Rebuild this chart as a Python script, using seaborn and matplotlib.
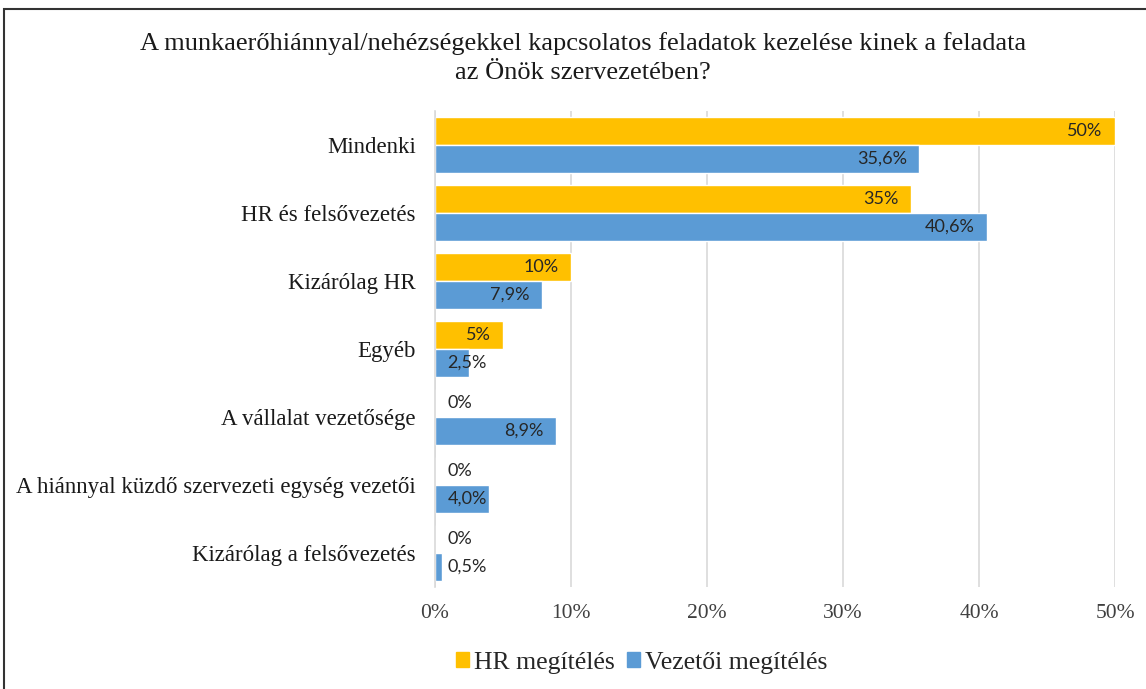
import matplotlib
matplotlib.use("Agg")
from matplotlib import pyplot as plt
from matplotlib.patches import Rectangle
import pandas as pd
import seaborn as sns

# data
categories = ['Mindenki', 'HR és felsővezetés', 'Kizárólag HR', 'Egyéb',
              'A vállalat vezetősége', 'A hiánnyal küzdő szervezeti egység vezetői',
              'Kizárólag a felsővezetés']
hr_values = [50, 35, 10, 5, 0, 0, 0]
vez_values = [35.6, 40.6, 7.9, 2.5, 8.9, 4.0, 0.5]
hr_labels = ['50%', '35%', '10%', '5%', '0%', '0%', '0%']
vez_labels = ['35,6%', '40,6%', '7,9%', '2,5%', '8,9%', '4,0%', '0,5%']
series = ['HR megítélés', 'Vezetői megítélés']
x_ticks = [0, 10, 20, 30, 40, 50]

colors = {'HR megítélés': '#FFC000', 'Vezetői megítélés': '#5B9BD5'}

df = pd.DataFrame({
    'Kategória': categories * 2,
    'Érték': hr_values + vez_values,
    'Sorozat': [series[0]] * len(categories) + [series[1]] * len(categories),
})

sns.set_style('white')
plt.rcParams['font.family'] = ['Liberation Serif', 'DejaVu Serif']

fig = plt.figure(figsize=(11.46, 6.89), dpi=100)
ax = fig.add_axes([0.3796, 0.148, 0.5934, 0.691])

sns.barplot(data=df, y='Kategória', x='Érték', hue='Sorozat', order=categories,
            hue_order=series, palette=colors, orient='h', width=0.82,
            saturation=1, ax=ax, legend=False)

ax.set_xlim(0, 50)
ax.set_xticks(x_ticks)
ax.set_xticklabels([f'{t}%' for t in x_ticks], fontsize=15.5, color='#404040')
ax.tick_params(axis='y', labelsize=16.5, length=0, pad=14, labelcolor='#1a1a1a')
ax.tick_params(axis='x', length=0, pad=12)
ax.set_xlabel('')
ax.set_ylabel('')
ax.xaxis.grid(True, color='#D9D9D9', linewidth=1.2)
ax.set_axisbelow(True)
for s in ['top', 'right', 'bottom']:
    ax.spines[s].set_visible(False)
ax.spines['left'].set_color('#D9D9D9')
ax.spines['left'].set_linewidth(1.2)

# bar labels: inside end, or from the axis when the bar is too short
for cont, vals, labs in zip(ax.containers, [hr_values, vez_values], [hr_labels, vez_labels]):
    for bar, v, lab in zip(cont, vals, labs):
        yc = bar.get_y() + bar.get_height() / 2
        if v >= 5:
            ax.annotate(lab, (v, yc), xytext=(-9, 0), textcoords='offset points',
                        ha='right', va='center', fontsize=13, color='#262626',
                        family='Lato')
        else:
            ax.annotate(lab, (0, yc), xytext=(9, 0), textcoords='offset points',
                        ha='left', va='center', fontsize=13, color='#262626',
                        family='Lato')

fig.text(0.509, 0.916, 'A munkaerőhiánnyal/nehézségekkel kapcsolatos feladatok kezelése kinek a feladata\naz Önök szervezetében?',
         ha='center', va='center', fontsize=19, linespacing=1.4, color='#1a1a1a')

handles = [Rectangle((0, 0), 1, 1, color=colors[s]) for s in series]
fig.legend(handles, series, loc='center', bbox_to_anchor=(0.56, 0.038), ncol=2,
           frameon=False, fontsize=18.5, handlelength=0.5, handleheight=0.5,
           handletextpad=0.2, columnspacing=0.5)

# outer chart border (right and bottom edges fall outside the image)
fig.add_artist(Rectangle((4 / 1146, -0.02), 1.1, 1 - 9 / 689 + 0.02,
                         transform=fig.transFigure, fill=False,
                         edgecolor='#333333', linewidth=1.5))

fig.savefig('out.png', dpi=100)
